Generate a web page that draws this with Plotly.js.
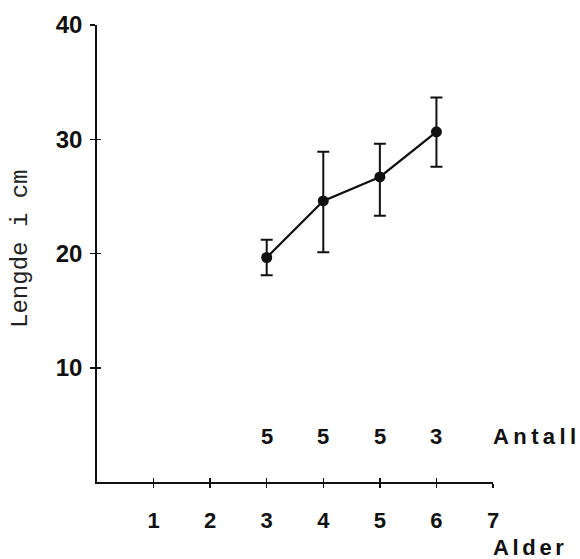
<!DOCTYPE html>
<html>
<head>
<meta charset="utf-8">
<script src="https://cdn.plot.ly/plotly-3.0.1.min.js"></script>
<style>html,body{margin:0;padding:0;background:#fff;}#chart{width:580px;height:559px;}</style>
</head>
<body>
<div id="chart"></div>
<script>
// Data
const alder = [3, 4, 5, 6];
const lengde = [19.65, 24.6, 26.7, 30.65];
const errUpper = [1.55, 4.3, 2.9, 3.0];   // distance to top of bar
const errLower = [1.55, 4.5, 3.4, 3.05];  // distance to bottom of bar
const antall = ['5', '5', '5', '3'];
const xTicks = [1, 2, 3, 4, 5, 6, 7];
const yTicks = [10, 20, 30, 40];

const boldFont = {family: 'Liberation Sans, Arial, sans-serif', color: '#111', weight: 'bold'};

const traces = [
  {
    x: alder, y: lengde, type: 'scatter', mode: 'lines+markers',
    line: {color: '#111', width: 2.2},
    marker: {color: '#111', size: 11},
    error_y: {type: 'data', symmetric: false, array: errUpper, arrayminus: errLower,
              color: '#111', thickness: 2, width: 6},
    hoverinfo: 'skip', showlegend: false
  },
  {
    x: [0], y: [0], xaxis: 'x2', yaxis: 'y2', type: 'scatter', mode: 'markers',
    marker: {opacity: 0}, hoverinfo: 'skip', showlegend: false
  }
];

const annotations = alder.map((a, i) => ({
  x: a, y: 4, xref: 'x', yref: 'y', text: antall[i], showarrow: false,
  xanchor: 'center', yanchor: 'middle', font: Object.assign({size: 22}, boldFont)
}));
annotations.push({
  x: 7, y: 4, xref: 'x', yref: 'y', text: 'A\u2009n\u2009t\u2009a\u2009l\u2009l', showarrow: false,
  xanchor: 'left', yanchor: 'middle', xshift: -2, font: Object.assign({size: 22}, boldFont)
});
annotations.push({
  x: 7, y: -0.144, xref: 'x', yref: 'paper', text: 'A\u2006l\u2006d\u2006e\u2006r', showarrow: false,
  xanchor: 'left', yanchor: 'middle', xshift: -2, font: Object.assign({size: 22}, boldFont)
});
annotations.push({
  x: 0, y: 0.51, xref: 'paper', yref: 'paper', text: 'Lengde i cm', showarrow: false,
  textangle: -90, xanchor: 'center', yanchor: 'middle', xshift: -76,
  font: {family: 'Liberation Mono, Courier New, monospace', size: 24, color: '#222'}
});

const layout = {
  width: 580, height: 559,
  margin: {l: 97, r: 87, t: 25, b: 77},
  paper_bgcolor: '#fff', plot_bgcolor: '#fff',
  showlegend: false,
  xaxis: {
    range: [0, 7], tickvals: xTicks, ticktext: xTicks.map(String),
    showline: true, linecolor: '#111', linewidth: 1.5,
    ticks: 'outside', ticklen: 4, tickwidth: 1.5, tickcolor: '#111',
    showgrid: false, zeroline: false, ticklabelstandoff: 14,
    tickfont: Object.assign({size: 22}, boldFont), fixedrange: true
  },
  yaxis: {
    range: [0, 40], tickvals: yTicks, ticktext: yTicks.map(String),
    showline: true, linecolor: '#111', linewidth: 1.8,
    ticks: 'outside', ticklen: 5, tickwidth: 1.5, tickcolor: '#111',
    showgrid: false, zeroline: false, ticklabelstandoff: 3,
    tickfont: Object.assign({size: 24}, boldFont), fixedrange: true
  },
  xaxis2: {
    range: [0, 7], tickvals: xTicks, overlaying: 'x', anchor: 'y2',
    showline: false, ticks: 'inside', ticklen: 4, tickwidth: 1.5, tickcolor: '#111',
    showticklabels: false, showgrid: false, zeroline: false, fixedrange: true
  },
  yaxis2: {
    range: [0, 40], tickvals: yTicks, overlaying: 'y', anchor: 'x2',
    showline: false, ticks: 'inside', ticklen: 4, tickwidth: 1.5, tickcolor: '#111',
    showticklabels: false, showgrid: false, zeroline: false, fixedrange: true
  },
  annotations: annotations
};

Plotly.newPlot('chart', traces, layout, {staticPlot: true, displayModeBar: false});
</script>
</body>
</html>
